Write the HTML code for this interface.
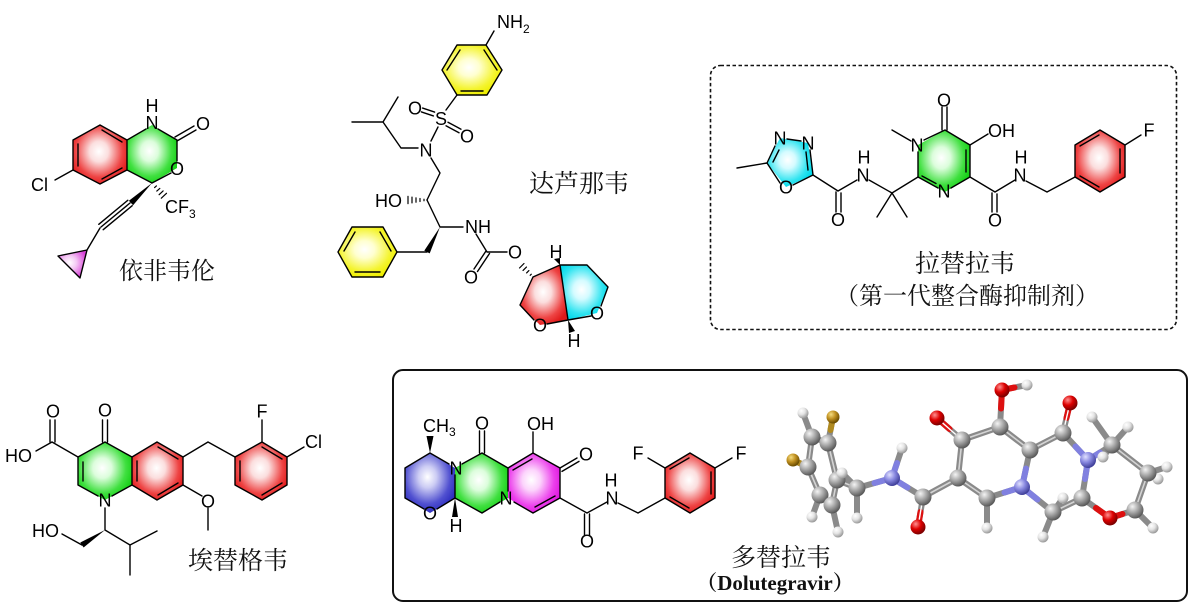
<!DOCTYPE html>
<html><head><meta charset="utf-8"><style>
html,body{margin:0;padding:0;background:#fff;}
svg{display:block;}
.a{font-family:"Liberation Sans",Arial,sans-serif;font-size:18px;fill:#000;}
.am{font-family:"Liberation Sans",Arial,sans-serif;font-size:18px;fill:#000;text-anchor:middle;}
.s{font-family:"Liberation Sans",Arial,sans-serif;font-size:12px;fill:#000;}
.cn{font-family:"Noto Serif CJK SC","Liberation Serif","WenQuanYi Zen Hei",serif;font-size:25px;fill:#111;text-anchor:middle;}
.cn2{font-family:"Noto Serif CJK SC","Liberation Serif","WenQuanYi Zen Hei",serif;font-size:24px;fill:#111;text-anchor:middle;}
.en{font-family:"Liberation Serif","Noto Serif CJK SC",serif;font-size:21px;font-weight:bold;fill:#111;text-anchor:middle;}
</style></head><body>
<svg width="1196" height="612" viewBox="0 0 1196 612" xmlns="http://www.w3.org/2000/svg">
<defs>
<radialGradient id="gR" cx="48%" cy="45%" r="58%"><stop offset="0" stop-color="#fff"/><stop offset="0.3" stop-color="#fbdede"/><stop offset="0.75" stop-color="#ee4444"/><stop offset="1" stop-color="#e01a1a"/></radialGradient>
<radialGradient id="gG" cx="45%" cy="45%" r="58%"><stop offset="0" stop-color="#fff"/><stop offset="0.3" stop-color="#dcfddc"/><stop offset="0.75" stop-color="#40e040"/><stop offset="1" stop-color="#18d018"/></radialGradient>
<radialGradient id="gY" cx="45%" cy="45%" r="58%"><stop offset="0" stop-color="#fff"/><stop offset="0.3" stop-color="#ffffd0"/><stop offset="0.75" stop-color="#f4f430"/><stop offset="1" stop-color="#eeee00"/></radialGradient>
<radialGradient id="gCy" cx="45%" cy="45%" r="58%"><stop offset="0" stop-color="#fff"/><stop offset="0.3" stop-color="#d4fbff"/><stop offset="0.75" stop-color="#30e4f0"/><stop offset="1" stop-color="#00d8ea"/></radialGradient>
<radialGradient id="gB" cx="45%" cy="40%" r="60%"><stop offset="0" stop-color="#fff"/><stop offset="0.3" stop-color="#ccccf4"/><stop offset="0.75" stop-color="#5050d0"/><stop offset="1" stop-color="#3030c0"/></radialGradient>
<radialGradient id="gM" cx="45%" cy="45%" r="58%"><stop offset="0" stop-color="#fff"/><stop offset="0.3" stop-color="#fcd4fc"/><stop offset="0.75" stop-color="#ec40ec"/><stop offset="1" stop-color="#e01ae0"/></radialGradient>
<radialGradient id="gP" cx="40%" cy="45%" r="60%"><stop offset="0" stop-color="#fff"/><stop offset="0.4" stop-color="#f4c8f4"/><stop offset="1" stop-color="#d840d8"/></radialGradient>
<radialGradient id="sC" cx="35%" cy="30%" r="70%"><stop offset="0" stop-color="#f4f4f4"/><stop offset="0.5" stop-color="#a8a8a8"/><stop offset="1" stop-color="#5a5a5a"/></radialGradient>
<radialGradient id="sH" cx="35%" cy="30%" r="70%"><stop offset="0" stop-color="#fff"/><stop offset="0.5" stop-color="#e4e4e4"/><stop offset="1" stop-color="#9a9a9a"/></radialGradient>
<radialGradient id="sO" cx="35%" cy="30%" r="70%"><stop offset="0" stop-color="#ff9090"/><stop offset="0.5" stop-color="#dd0000"/><stop offset="1" stop-color="#7a0000"/></radialGradient>
<radialGradient id="sN" cx="35%" cy="30%" r="70%"><stop offset="0" stop-color="#e0e0ff"/><stop offset="0.5" stop-color="#8888e0"/><stop offset="1" stop-color="#40409a"/></radialGradient>
<radialGradient id="sF" cx="35%" cy="30%" r="70%"><stop offset="0" stop-color="#f4dc80"/><stop offset="0.5" stop-color="#c09020"/><stop offset="1" stop-color="#6a4c00"/></radialGradient>
</defs>

<!-- ============ Efavirenz ============ -->
<polygon points="100,125 127,140 127,170 100,184 73,170 73,140" fill="url(#gR)"/>
<polygon points="127,140 152,125 177,140 177,168 152,183 127,170" fill="url(#gG)"/>
<polygon points="58,256 87,250 80,278" fill="url(#gP)"/>
<g stroke="#000" stroke-width="1.4" fill="none" stroke-linecap="round" stroke-linejoin="round">
<path d="M100,125 L127,140 L127,170 L100,184 L73,170 L73,140 Z"/>
<path d="M102,130 L122,142 M78,144 L78,166 M122,168 L102,179"/>
<path d="M73,170 L55,180"/>
<path d="M127,140 L146,129 M158,129 L177,140 L177,161 M171,173 L152,183 L127,170"/>
<path d="M177,141 L196,130 M175,137 L194,126"/>
<path d="M130,203 L101,227 M132.2,205.7 L103.2,229.7 M127.8,200.3 L98.8,224.3"/>
<path d="M100,228 L87,250"/>
<path d="M58,256 L87,250 L80,278 Z"/>
<path d="M154.6,187.6 L156.4,185.9 M156.8,191.1 L159.8,188.4 M159.1,194.7 L163.1,190.9 M161.3,198.2 L166.5,193.3" stroke-width="1.2"/>
</g>
<polygon points="152,183 128.9,200.8 133.1,205.2" fill="#000"/>
<text class="am" x="152" y="112">H</text>
<text class="am" x="152" y="129">N</text>
<text class="am" x="177" y="175">O</text>
<text class="am" x="203" y="130">O</text>
<text class="a" x="31" y="191">Cl</text>
<text class="a" x="165" y="213">CF</text><text class="s" x="189" y="218">3</text>
<text class="cn2" x="167" y="279">依非韦伦</text>

<!-- ============ Darunavir ============ -->
<polygon points="442,70 457,45 486,45 502,70 487,95 457,95" fill="url(#gY)"/>
<polygon points="338,252 352,227 383,227 397,252 383,277 352,277" fill="url(#gY)"/>
<polygon points="533,277 560,265 568,320 540,325 520,305" fill="url(#gR)"/>
<polygon points="560,265 587,265 608,287 597,313 568,320" fill="url(#gCy)"/>
<g stroke="#000" stroke-width="1.4" fill="none" stroke-linecap="round" stroke-linejoin="round">
<path d="M442,70 L457,45 L486,45 L502,70 L487,95 L457,95 Z"/>
<path d="M447,70 L460,50 M484,50 L497,70 M461,91 L483,91"/>
<path d="M486,45 L494,31"/>
<path d="M457,95 L446,110"/>
<path d="M434.6,112.1 L422.6,108.1 M433.4,115.9 L421.4,111.9"/>
<path d="M446,125.8 L459,132.8 M448,122.2 L461,129.2"/>
<path d="M438,127 L431,141"/>
<path d="M418,148 L401,148 L383,122 L398,97 M383,122 L352,122"/>
<path d="M431,158 L440,173 L427,200"/>
<path d="M424,199.2 L424,200.8 M420,198.5 L420,201.5 M416,197.8 L416,202.2 M412,197.1 L412,202.9 M408,196.4 L408,203.6" stroke-width="1.2"/>
<path d="M427,200 L440,227 L463,227"/>
<path d="M427,252 L397,252"/>
<path d="M338,252 L352,227 L383,227 L397,252 L383,277 L352,277 Z"/>
<path d="M344,251 L355,232 M380,232 L391,251 M380,272 L355,272"/>
<path d="M476,234 L487,252 L507,252"/>
<path d="M486,251 L474,269 M489.5,253.5 L477.5,271.5"/>
<path d="M530.2,275.3 L531.3,274.2 M526.6,272.9 L528.9,270.6 M523.05,270.45 L526.45,267.05 M519.5,268 L524,263.5" stroke-width="1.2"/>
<path d="M533,277 L560,265 L587,265 L608,287 L601,306 M591,316 L568,320 M560,265 L568,320 M533,277 L520,305 L534,320 M547,324 L568,320"/>
</g>
<polygon points="440,227 424.3,250.6 429.7,253.4" fill="#000"/>
<polygon points="560,265 554,259 560,258" fill="#000"/>
<polygon points="568,320 569,333 575,331" fill="#000"/>
<text class="a" x="497" y="28">NH</text><text class="s" x="523" y="33">2</text>
<text class="am" x="441" y="125">S</text>
<text class="am" x="415" y="114.5">O</text>
<text class="am" x="467" y="142.5">O</text>
<text class="am" x="426" y="156.5">N</text>
<text class="a" x="375" y="207">HO</text>
<text class="a" x="465" y="233">NH</text>
<text class="am" x="515" y="258.5">O</text>
<text class="am" x="471" y="283.5">O</text>
<text class="am" x="556" y="258">H</text>
<text class="am" x="574" y="347">H</text>
<text class="am" x="540" y="331.5">O</text>
<text class="am" x="597" y="319.5">O</text>
<text class="cn" x="579" y="192">达芦那韦</text>

<!-- ============ Raltegravir ============ -->
<rect x="710.5" y="65.5" width="466" height="264" rx="10" ry="10" fill="none" stroke="#111" stroke-width="1.6" stroke-dasharray="3.5,2.5"/>
<polygon points="767,163 780,138 808,143 813,175 786,187" fill="url(#gCy)"/>
<polygon points="918,177 918,145 945,130 970,145 970,177 945,192" fill="url(#gG)"/>
<polygon points="1075,177 1075,145 1100,130 1125,145 1125,177 1100,192" fill="url(#gR)"/>
<g stroke="#000" stroke-width="1.4" fill="none" stroke-linecap="round" stroke-linejoin="round">
<path d="M737,168 L767,163 L775,146 M773,162 L779,150"/>
<path d="M787,139 L801,141"/>
<path d="M810,150 L813,175 M806,152 L808,170"/>
<path d="M813,175 L793,185 M780,183 L767,163"/>
<path d="M813,175 L838,191 L857,180"/>
<path d="M836,192 L836,212 M841,193 L841,212"/>
<path d="M869,180 L892,193 L877,217 M892,193 L907,217 M892,193 L918,177"/>
<path d="M918,177 L918,152 M924,140 L945,130 L970,145 L970,177 L951,188 M966,150 L966,172"/>
<path d="M938,188 L918,177 M936,183.5 L922,176"/>
<path d="M911,141 L892,130"/>
<path d="M942,130 L942,107 M947,130 L947,107"/>
<path d="M970,145 L988,134"/>
<path d="M970,177 L995,192 L1015,180 M992,193 L992,212 M997,194 L997,212"/>
<path d="M1026,181 L1047,192 L1075,177"/>
<path d="M1075,177 L1075,145 L1100,130 L1125,145 L1125,177 L1100,192 Z"/>
<path d="M1080,146 L1099,135 M1120,149 L1120,173 M1099,187 L1080,176"/>
<path d="M1125,145 L1141,135"/>
</g>
<text class="am" x="780" y="144.5">N</text>
<text class="am" x="808" y="149.5">N</text>
<text class="am" x="786" y="193.5">O</text>
<text class="am" x="838" y="226">O</text>
<text class="am" x="863" y="181.5">N</text>
<text class="am" x="864" y="163.5">H</text>
<text class="am" x="917" y="151.5">N</text>
<text class="am" x="944" y="197.5">N</text>
<text class="am" x="944" y="106.5">O</text>
<text class="a" x="988" y="137">OH</text>
<text class="am" x="995" y="226.5">O</text>
<text class="am" x="1020" y="181.5">N</text>
<text class="am" x="1021" y="163.5">H</text>
<text class="am" x="1149" y="136.5">F</text>
<text class="cn" x="965" y="272">拉替拉韦</text>
<text class="cn2" x="967" y="304">（第一代整合酶抑制剂）</text>

<!-- ============ Elvitegravir ============ -->
<polygon points="78,457 105,442 132,457 132,485 105,500 78,485" fill="url(#gG)"/>
<polygon points="132,457 157,442 183,457 183,485 157,500 132,485" fill="url(#gR)"/>
<polygon points="235,457 262,442 287,457 287,485 262,500 235,485" fill="url(#gR)"/>
<g stroke="#000" stroke-width="1.4" fill="none" stroke-linecap="round" stroke-linejoin="round">
<path d="M52,442 L78,457 M50,442 L50,420 M55,442 L55,420 M52,442 L36,451"/>
<path d="M78,457 L105,442 L132,457 L132,485 L112,496 M98,496 L78,485 L78,457 M83,462 L83,481"/>
<path d="M102.5,442 L102.5,420 M107.5,442 L107.5,420"/>
<path d="M132,457 L157,442 L183,457 L183,485 L157,500 L132,485 M137,461 L137,481 M158,447 L178,459 M178,483 L158,495"/>
<path d="M183,485 L202,496 M208,508 L208,530"/>
<path d="M183,457 L208,442 L235,457"/>
<path d="M235,457 L262,442 L287,457 L287,485 L262,500 L235,485 Z M240,461 L240,481 M262,447 L282,459 M282,483 L262,495"/>
<path d="M262,442 L262,420 M287,457 L304,447"/>
<path d="M105,508 L105,530 L130,545 L157,531 M130,545 L130,575"/>
<path d="M82,545 L62,534"/>
</g>
<polygon points="105,530 80.3,542.5 83.6,547.5" fill="#000"/>
<text class="am" x="53" y="417.5">O</text>
<text class="a" x="5" y="462">HO</text>
<text class="am" x="105" y="416.5">O</text>
<text class="am" x="105" y="506.5">N</text>
<text class="am" x="208" y="507.5">O</text>
<text class="am" x="262" y="417.5">F</text>
<text class="a" x="305" y="448">Cl</text>
<text class="a" x="32" y="537">HO</text>
<text class="cn" x="238" y="569">埃替格韦</text>

<!-- ============ Dolutegravir ============ -->
<rect x="393" y="370" width="794" height="231" rx="10" ry="10" fill="none" stroke="#111" stroke-width="2"/>
<polygon points="430,453 455,468 455,498 430,513 405,498 405,468" fill="url(#gB)"/>
<polygon points="455,468 482,453 508,468 508,498 482,513 455,498" fill="url(#gG)"/>
<polygon points="508,468 533,453 560,468 560,498 533,513 508,498" fill="url(#gM)"/>
<polygon points="665,498 665,468 690,453 715,468 715,498 690,513" fill="url(#gR)"/>
<g stroke="#000" stroke-width="1.4" fill="none" stroke-linecap="round" stroke-linejoin="round">
<path d="M449,464 L430,453 L405,468 L405,498 L424,509 M437,509 L455,498 L455,475"/>
<path d="M462,464 L482,453 L508,468 L508,491 M500,502 L482,513 L455,498"/>
<path d="M479.5,453 L479.5,431 M484.5,453 L484.5,431"/>
<path d="M508,468 L533,453 L560,468 L560,498 L533,513 L514,502 M513,470 L532,459 M555,496 L535,507"/>
<path d="M533,453 L533,432"/>
<path d="M560,468 L577,458 M562,471.4 L579,461.4"/>
<path d="M560,498 L587,513 L607,502 M584.5,514 L584.5,535 M589.5,514 L589.5,535"/>
<path d="M618,503 L638,513 L665,498"/>
<path d="M665,498 L665,468 L690,453 L715,468 L715,498 L690,513 Z M670,469 L689,458 M711,472 L711,494 M689,508 L670,497"/>
<path d="M665,468 L648,458 M715,468 L732,458"/>
</g>
<polygon points="430,453 426.5,436 433.5,436" fill="#000"/>
<polygon points="455,498 452,517 458,517" fill="#000"/>
<text class="a" x="423" y="432">CH</text><text class="s" x="449" y="436">3</text>
<text class="am" x="456" y="474.5">N</text>
<text class="am" x="430" y="519.5">O</text>
<text class="am" x="456" y="532">H</text>
<text class="am" x="506" y="504.5">N</text>
<text class="am" x="482" y="429.5">O</text>
<text class="a" x="527" y="430">OH</text>
<text class="am" x="586" y="460.5">O</text>
<text class="am" x="587" y="547.5">O</text>
<text class="am" x="612" y="504.5">N</text>
<text class="am" x="611" y="486.5">H</text>
<text class="am" x="638" y="459.5">F</text>
<text class="am" x="741" y="459.5">F</text>
<text class="cn" x="781" y="566">多替拉韦</text>
<text class="en" x="775" y="590">（Dolutegravir）</text>

<!-- ============ 3D ball & stick ============ -->
<g stroke-linecap="round" fill="none">
<g stroke="#8a8a8a" stroke-width="6">
<path d="M803,413 L812,437 L828,443 L833,417 M812,437 L808,467 L793,460 M828,443 L837,480 M808,467 L820,495 L832,505 L837,480 L857,488 L842,473 M857,488 L857,518 M820,495 L812,517 M832,505 L838,532"/>
<path d="M857,488 L892,478 L902,448 M892,478 L923,497 L918,527 M923,497 L958,478 L962,440 L937,418 M962,440 L1000,427 L1002,390 L1027,385 M1000,427 L1030,450 L1022,487 L987,498 L958,478 M987,498 L987,528"/>
<path d="M1030,450 L1063,433 L1070,403 M1063,433 L1088,460 L1112,445 L1092,417 M1112,445 L1128,427 M1112,445 L1103,457 M1112,445 L1148,473 L1167,467 M1148,473 L1158,479 M1148,473 L1135,510 L1153,528 M1135,510 L1110,518 L1082,498 L1088,460 M1082,498 L1053,512 L1022,487 M1053,512 L1043,537 M1053,512 L1063,498"/>
</g>
<g stroke="#8080e0" stroke-width="6">
<path d="M892,478 L874.5,483 M892,478 L897,463 M892,478 L907.5,487.5"/>
<path d="M1022,487 L1026,468.5 M1022,487 L1004.5,492.5 M1022,487 L1037.5,499.5"/>
<path d="M1088,460 L1075.5,446.5 M1088,460 L1100,452.5 M1088,460 L1085,479"/>
</g>
<g stroke="#dd1010" stroke-width="6">
<path d="M918,527 L920.5,512 M937,418 L949.5,429 M1002,390 L1001,408.5 M1002,390 L1014.5,387.5 M1070,403 L1066.5,418 M1110,518 L1096,508 M1110,518 L1122.5,514"/>
</g>
<g stroke="#b08a20" stroke-width="6">
<path d="M833,417 L830.5,430 M793,460 L800.5,463.5"/>
</g>
<g stroke="#dcdcdc" stroke-width="1.6" opacity="0.9">
<path d="M812,437 L828,443 M812,437 L808,467 M828,443 L837,480 M808,467 L820,495 L832,505 L837,480 L857,488"/>
<path d="M923,497 L958,478 L962,440 L1000,427 L1030,450 M987,498 L958,478 M1030,450 L1063,433 M1112,445 L1148,473 L1135,510 M1082,498 L1053,512"/>
</g>
<path d="M918,527 L923,497 M937,418 L962,440 M1070,403 L1063,433" stroke="#fff" stroke-width="1.4"/>
</g>
<g>
<circle cx="803" cy="413" r="5.5" fill="url(#sH)"/>
<circle cx="833" cy="417" r="6.5" fill="url(#sF)"/>
<circle cx="812" cy="437" r="8.5" fill="url(#sC)"/>
<circle cx="828" cy="443" r="8.5" fill="url(#sC)"/>
<circle cx="793" cy="460" r="6.5" fill="url(#sF)"/>
<circle cx="808" cy="467" r="8.5" fill="url(#sC)"/>
<circle cx="820" cy="495" r="8.5" fill="url(#sC)"/>
<circle cx="812" cy="517" r="5.5" fill="url(#sH)"/>
<circle cx="832" cy="505" r="8.5" fill="url(#sC)"/>
<circle cx="838" cy="532" r="5.5" fill="url(#sH)"/>
<circle cx="837" cy="480" r="8.5" fill="url(#sC)"/>
<circle cx="842" cy="473" r="5.5" fill="url(#sH)"/>
<circle cx="857" cy="518" r="5.5" fill="url(#sH)"/>
<circle cx="857" cy="488" r="8.5" fill="url(#sC)"/>
<circle cx="902" cy="448" r="5.5" fill="url(#sH)"/>
<circle cx="892" cy="478" r="8" fill="url(#sN)"/>
<circle cx="918" cy="527" r="7.5" fill="url(#sO)"/>
<circle cx="923" cy="497" r="8.5" fill="url(#sC)"/>
<circle cx="937" cy="418" r="7.5" fill="url(#sO)"/>
<circle cx="958" cy="478" r="8.5" fill="url(#sC)"/>
<circle cx="962" cy="440" r="8.5" fill="url(#sC)"/>
<circle cx="1027" cy="385" r="5.5" fill="url(#sH)"/>
<circle cx="1002" cy="390" r="7.5" fill="url(#sO)"/>
<circle cx="1000" cy="427" r="8.5" fill="url(#sC)"/>
<circle cx="987" cy="528" r="5.5" fill="url(#sH)"/>
<circle cx="987" cy="498" r="8.5" fill="url(#sC)"/>
<circle cx="1030" cy="450" r="8.5" fill="url(#sC)"/>
<circle cx="1022" cy="487" r="8" fill="url(#sN)"/>
<circle cx="1070" cy="403" r="7.5" fill="url(#sO)"/>
<circle cx="1063" cy="433" r="8.5" fill="url(#sC)"/>
<circle cx="1092" cy="417" r="5.5" fill="url(#sH)"/>
<circle cx="1128" cy="427" r="5.5" fill="url(#sH)"/>
<circle cx="1043" cy="537" r="5.5" fill="url(#sH)"/>
<circle cx="1053" cy="512" r="8.5" fill="url(#sC)"/>
<circle cx="1063" cy="498" r="5.5" fill="url(#sH)"/>
<circle cx="1082" cy="498" r="8.5" fill="url(#sC)"/>
<circle cx="1103" cy="457" r="5.5" fill="url(#sH)"/>
<circle cx="1088" cy="460" r="8" fill="url(#sN)"/>
<circle cx="1112" cy="445" r="8.5" fill="url(#sC)"/>
<circle cx="1110" cy="518" r="7.5" fill="url(#sO)"/>
<circle cx="1153" cy="528" r="5.5" fill="url(#sH)"/>
<circle cx="1135" cy="510" r="8.5" fill="url(#sC)"/>
<circle cx="1158" cy="479" r="5.5" fill="url(#sH)"/>
<circle cx="1148" cy="473" r="8.5" fill="url(#sC)"/>
<circle cx="1167" cy="467" r="5.5" fill="url(#sH)"/>
</g>
</svg>
</body></html>
